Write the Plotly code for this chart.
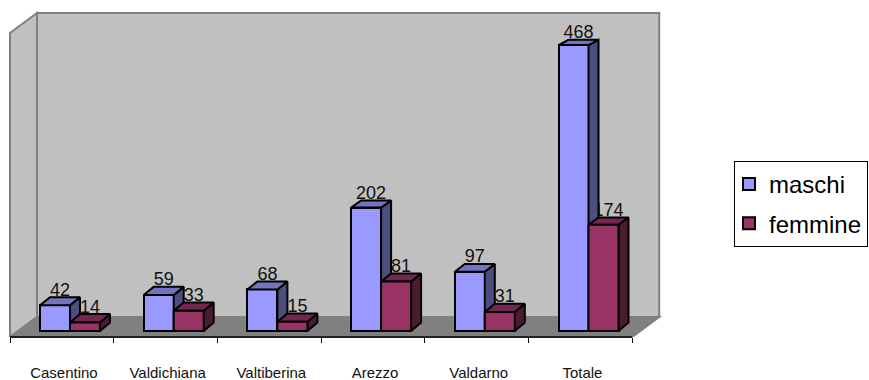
import plotly.graph_objects as go

categories = ["Casentino", "Valdichiana", "Valtiberina", "Arezzo", "Valdarno", "Totale"]
maschi = [42, 59, 68, 202, 97, 468]
femmine = [14, 33, 15, 81, 31, 174]

W, H = 869, 380
PX_X = 103.7      # pixels per category
PX_Y = 0.611      # pixels per unit of value
LEFT = 10         # pixel of category edge 0
ZERO = 331        # pixel of value 0
BOTTOM = 337      # pixel of the axis line

FONT = "Liberation Sans, Arial, sans-serif"
BAR_W = 30 / PX_X
GAP = 30 / PX_X
DX = 10 / PX_X
DY = 8.5 / PX_Y
n = len(categories)

x_range = [-LEFT / PX_X, (W - LEFT) / PX_X]
y_range = [-(BOTTOM - ZERO) / PX_Y, ZERO / PX_Y]
FLOOR_Y = y_range[0]
WALL_DX = 27 / PX_X
WALL_BACK_Y = 14 / PX_Y
WALL_TOP_Y = 318 / PX_Y
WALL_FRONT_TOP_Y = WALL_TOP_Y - 20 / PX_Y


def depth(v):
    # the original's slight perspective: tall bars show a shallower top
    return DY - v * 0.007 / PX_Y


def path(points):
    return "M" + "L".join(f"{a},{b}" for a, b in points) + "Z"


def wall(points, fill, line="#808080", width=2):
    return dict(type="path", xref="x", yref="y", path=path(points), fillcolor=fill,
                line=dict(color=line, width=width), layer="below")


shapes = [
    wall([(WALL_DX, WALL_BACK_Y), (WALL_DX, WALL_TOP_Y), (n + WALL_DX, WALL_TOP_Y), (n + WALL_DX, WALL_BACK_Y)], "#C0C0C0"),
    wall([(0, FLOOR_Y), (0, WALL_FRONT_TOP_Y), (WALL_DX, WALL_TOP_Y), (WALL_DX, WALL_BACK_Y)], "#C0C0C0"),
    wall([(0, FLOOR_Y), (WALL_DX, WALL_BACK_Y), (n + WALL_DX, WALL_BACK_Y), (n, FLOOR_Y)], "#808080"),
    dict(type="line", xref="x", yref="paper", x0=0, x1=n, y0=0, y1=0,
         line=dict(color="#222222", width=2), layer="above"),
]


def poly(pts, fill):
    return go.Scatter(x=[p[0] for p in pts] + [pts[0][0]], y=[p[1] for p in pts] + [pts[0][1]],
                      mode="lines", fill="toself", fillcolor=fill,
                      line=dict(color="black", width=2), showlegend=False,
                      hoverinfo="skip", cliponaxis=False)


def faces(x0, v, top, side):
    x1 = x0 + BAR_W
    d = depth(v)
    return [
        poly([(x1, 0), (x1 + DX, DY), (x1 + DX, v + d), (x1, v)], side),
        poly([(x0, v), (x0 + DX, v + d), (x1 + DX, v + d), (x1, v)], top),
    ]


def labels(xs, vs):
    return go.Scatter(x=[a + BAR_W / 2 + DX / 2 for a in xs], y=[v + depth(v) - 3 / PX_Y for v in vs],
                      mode="text", text=[str(v) for v in vs], textposition="top center",
                      textfont=dict(family=FONT, size=18, color="#111111"),
                      showlegend=False, hoverinfo="skip", cliponaxis=False)


xm = [k + GAP for k in range(n)]
xf = [k + GAP + BAR_W for k in range(n)]

fig = go.Figure()
fig.add_trace(go.Bar(x=[a + BAR_W / 2 for a in xm], y=maschi, width=BAR_W, name="maschi", legendgroup="m",
                     marker=dict(color="#9999FF", line=dict(color="black", width=2)), hoverinfo="y"))
fig.add_trace(go.Bar(x=[a + BAR_W / 2 for a in xf], y=femmine, width=BAR_W, name="femmine", legendgroup="f",
                     marker=dict(color="#993366", line=dict(color="black", width=2)), hoverinfo="y"))

fig.add_trace(labels(xf, femmine))
for a, v in zip(xm, maschi):
    for t in faces(a, v, "#7373BF", "#4D4D80"):
        fig.add_trace(t)
for a, v in zip(xf, femmine):
    for t in faces(a, v, "#732650", "#4D1A33"):
        fig.add_trace(t)
    # the femmine front face sits in front of the maschi side face
    fig.add_trace(poly([(a, 0), (a, v), (a + BAR_W, v), (a + BAR_W, 0)], "#993366"))
fig.add_trace(labels(xm, maschi))

fig.update_layout(
    width=W, height=H, barmode="overlay", bargap=0,
    margin=dict(l=0, r=0, t=0, b=H - BOTTOM, pad=0, autoexpand=False),
    paper_bgcolor="white", plot_bgcolor="white",
    font=dict(family=FONT, color="black"),
    shapes=shapes,
    showlegend=True,
    legend=dict(x=734 / W, xanchor="left", y=1 - 161 / BOTTOM, yanchor="top",
                bgcolor="white", bordercolor="black", borderwidth=1, indentation=-6,
                itemwidth=30, tracegroupgap=5,
                font=dict(family=FONT, size=24), traceorder="grouped"),
    xaxis=dict(range=x_range, showgrid=False, zeroline=False, showline=False, automargin=False,
               tickmode="array", tickvals=[k + 0.52 for k in range(n)], ticktext=categories,
               ticks="outside", ticklen=22, tickcolor="rgba(0,0,0,0)",
               tickfont=dict(family=FONT, size=15, color="#111111"),
               minor=dict(tickmode="array", tickvals=list(range(n + 1)), ticks="outside",
                          ticklen=5, tickcolor="black", tickwidth=1, showgrid=False)),
    yaxis=dict(range=y_range, visible=False, automargin=False),
)
fig.write_html("out.html", config={"displayModeBar": False},
               post_script="document.documentElement.style.margin='0';document.body.style.margin='0';")
